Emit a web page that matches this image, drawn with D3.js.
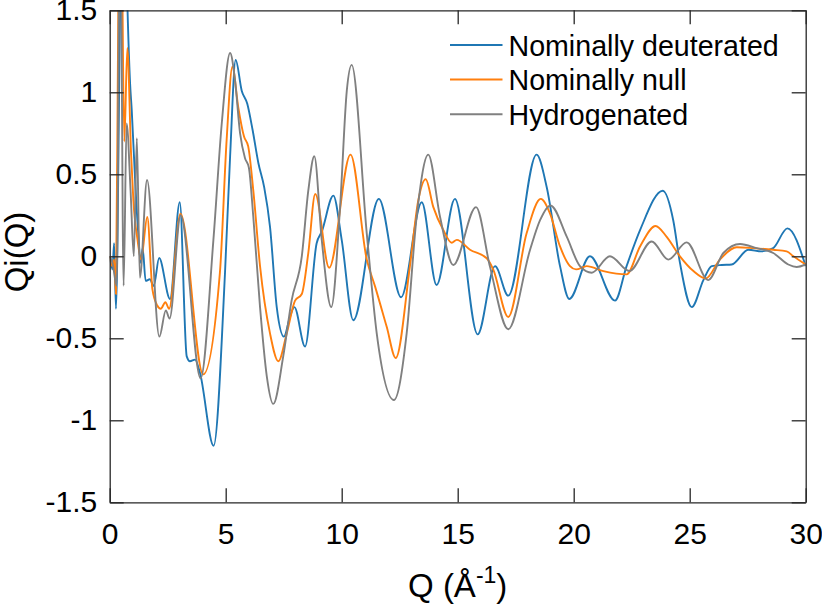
<!DOCTYPE html>
<html>
<head>
<meta charset="utf-8">
<script src="https://cdn.jsdelivr.net/npm/d3@7"></script>
<style>
  html, body { margin: 0; padding: 0; background: #fff; }
  svg { display: block; font-family: "Liberation Sans", Arial, sans-serif; }
</style>
</head>
<body>
<svg id="chart" width="822" height="605"></svg>
<script>
// ---- data ----
const seriesNames = ["Nominally deuterated", "Nominally null", "Hydrogenated"];
const seriesColors = ["#1f77b4", "#ff7f0e", "#808080"];

const qBlue = [0, 0.12, 0.19, 0.27, 0.45, 0.6, 0.75, 0.88, 0.95, 1.09, 1.23, 1.34, 1.42, 1.55, 1.73, 1.9, 2.13, 2.6, 3.02, 3.32, 3.46, 3.68, 3.89, 4.48, 4.97, 5.19, 5.43, 5.69, 5.93, 6.16, 6.41, 6.66, 6.91, 7.2, 7.51, 7.77, 7.96, 8.42, 8.92, 9.14, 9.64, 10.0, 10.5, 11.6, 12.56, 13.45, 14.09, 14.88, 15.86, 16.61, 17.18, 18.4, 18.84, 19.41, 19.81, 20.7, 21.78, 22.28, 22.86, 23.84, 24.29, 24.58, 25.09, 25.59, 25.95, 26.38, 26.81, 27.53, 28.1, 28.6, 29.21, 30];
const vBlue = [0, -0.08, 0.08, -0.32, 1.5, 2.6, 1.6, 1.05, 0.89, 0.48, 0.14, -0.04, 0.05, -0.15, -0.14, -0.18, -0.01, -0.26, 0.33, -0.61, -0.64, -0.63, -0.71, -1.155, -0.10, 0.61, 1.197, 1.01, 0.93, 0.77, 0.567, 0.42, 0.18, -0.31, -0.49, -0.37, -0.31, -0.55, 0.08, 0.15, 0.37, 0.10, -0.39, 0.35, -0.25, 0.33, -0.175, 0.35, -0.476, -0.06, -0.24, 0.62, 0.42, -0.06, -0.26, 0.0, -0.27, -0.06, 0.16, 0.40, 0.22, -0.04, -0.31, -0.145, -0.06, -0.053, -0.05, 0.04, 0.03, 0.05, 0.17, -0.06];

const qOrange = [0, 0.11, 0.19, 0.27, 0.37, 0.48, 0.63, 0.76, 0.92, 1.02, 1.2, 1.35, 1.62, 1.84, 2.05, 2.2, 2.4, 2.56, 3.05, 4.03, 4.75, 5.04, 5.29, 5.54, 5.79, 5.97, 6.19, 6.48, 6.91, 7.27, 7.63, 7.99, 8.28, 8.56, 8.86, 9.46, 10.38, 11.08, 11.44, 11.94, 12.33, 12.94, 13.3, 13.62, 13.95, 14.38, 14.74, 14.96, 15.53, 16.25, 16.53, 17.18, 17.97, 18.58, 18.98, 19.41, 19.84, 20.1, 20.56, 21.28, 22.28, 22.86, 23.53, 24.0, 24.58, 25.16, 25.69, 26.3, 27.03, 27.74, 28.6, 29.18, 29.47, 30];
const vOrange = [0, -0.06, -0.02, -0.23, 1.5, 2.3, 0.7, 1.27, 0.63, 0.34, 0.1, -0.02, 0.24, -0.2, -0.30, -0.32, -0.28, -0.32, 0.26, -0.72, -0.10, 0.71, 1.156, 0.91, 0.73, 0.67, 0.40, -0.06, -0.47, -0.64, -0.47, -0.27, -0.23, 0.02, 0.38, -0.07, 0.62, -0.02, -0.185, -0.43, -0.62, -0.06, 0.34, 0.47, 0.30, 0.16, 0.083, 0.10, 0.04, -0.012, -0.08, -0.37, 0.14, 0.35, 0.26, 0.06, -0.06, -0.08, -0.06, -0.09, -0.11, 0.06, 0.185, 0.12, 0.0, -0.09, -0.135, -0.02, 0.055, 0.05, 0.04, 0.03, 0.0, -0.05];

const qGrey = [0, 0.12, 0.3, 0.45, 0.6, 0.73, 0.9, 1.04, 1.17, 1.3, 1.61, 2.14, 2.42, 2.58, 3.06, 3.92, 4.47, 4.83, 5.19, 5.4, 5.62, 5.83, 6.0, 6.19, 6.48, 6.77, 7.05, 7.48, 7.84, 8.28, 8.56, 8.82, 9.14, 9.55, 9.93, 10.22, 10.43, 11.08, 11.51, 12.25, 12.8, 13.23, 13.73, 14.24, 14.81, 15.79, 16.39, 17.18, 18.12, 18.55, 19.0, 19.7, 20.27, 20.78, 21.56, 22.4, 23.36, 24.08, 24.87, 25.8, 26.45, 27.17, 27.89, 28.6, 29.25, 29.61, 30];
const vGrey = [0, -0.04, -0.18, 2.3, -0.18, 0.81, 0.40, 0.0, 0.72, -0.13, 0.465, -0.49, -0.33, -0.38, 0.25, -0.744, 0.10, 0.81, 1.24, 1.075, 0.75, 0.60, 0.54, 0.24, -0.31, -0.73, -0.90, -0.61, -0.27, 0.0, 0.40, 0.61, 0.10, -0.31, 0.30, 1.01, 1.167, 0.14, -0.47, -0.876, -0.47, 0.24, 0.62, 0.24, -0.053, 0.30, -0.063, -0.445, 0.04, 0.22, 0.31, 0.12, -0.06, -0.10, 0.0, -0.09, 0.09, -0.02, 0.085, -0.145, 0.02, 0.075, 0.05, 0.02, -0.05, -0.065, -0.05];

const xTicks = [0, 5, 10, 15, 20, 25, 30];
const yTicks = [-1.5, -1, -0.5, 0, 0.5, 1, 1.5];
const xLabel = "Q (Å";
const xLabelSup = "-1";
const yLabel = "Qi(Q)";

// ---- layout ----
const svg = d3.select("#chart");
const L = 109.7, R = 805.7, T = 10.3, B = 502.3;
const x = d3.scaleLinear().domain([0, 30]).range([L, R]);
const y = d3.scaleLinear().domain([-1.5, 1.5]).range([B, T]);
const axisColor = "#262626";
const tickLen = 14;

svg.append("defs").append("clipPath").attr("id", "clip")
  .append("rect").attr("x", L).attr("y", T).attr("width", R - L).attr("height", B - T);

const series = [
  { name: seriesNames[0], color: seriesColors[0], q: qBlue, v: vBlue },
  { name: seriesNames[1], color: seriesColors[1], q: qOrange, v: vOrange },
  { name: seriesNames[2], color: seriesColors[2], q: qGrey, v: vGrey }
];

const line = d3.line()
  .x(d => x(d[0]))
  .y(d => y(d[1]))
  .curve(d3.curveMonotoneX);

const gLines = svg.append("g").attr("clip-path", "url(#clip)");
series.forEach(s => {
  const pts = s.q.map((q, i) => [q, s.v[i]]);
  gLines.append("path")
    .datum(pts)
    .attr("fill", "none")
    .attr("stroke", s.color)
    .attr("stroke-width", 1.9)
    .attr("stroke-linejoin", "round")
    .attr("d", line);
});

// ---- axes ----
const fmt = d => String(d);
function styleAxis(g) {
  g.selectAll("path.domain").attr("stroke", axisColor).attr("stroke-width", 1.3);
  g.selectAll(".tick line").attr("stroke", axisColor).attr("stroke-width", 1.3);
  g.selectAll(".tick text").attr("fill", "#000").attr("font-size", 30)
    .attr("font-family", "'Liberation Sans', Arial, sans-serif");
}
svg.append("g").attr("transform", `translate(0,${B})`)
  .call(d3.axisBottom(x).tickValues(xTicks).tickFormat(fmt).tickSizeInner(-tickLen).tickSizeOuter(0).tickPadding(20))
  .call(styleAxis);
svg.append("g").attr("transform", `translate(0,${T})`)
  .call(d3.axisTop(x).tickValues(xTicks).tickFormat("").tickSizeInner(-tickLen).tickSizeOuter(0))
  .call(styleAxis);
svg.append("g").attr("transform", `translate(${L},0)`)
  .call(d3.axisLeft(y).tickValues(yTicks).tickFormat(fmt).tickSizeInner(-tickLen).tickSizeOuter(0).tickPadding(12.5))
  .call(styleAxis);
svg.append("g").attr("transform", `translate(${R},0)`)
  .call(d3.axisRight(y).tickValues(yTicks).tickFormat("").tickSizeInner(-tickLen).tickSizeOuter(0))
  .call(styleAxis);

// ---- axis labels ----
const xl = svg.append("text")
  .attr("x", (L + R) / 2)
  .attr("y", 596.5)
  .attr("text-anchor", "middle")
  .attr("font-size", 33)
  .attr("fill", "#000");
xl.append("tspan").text(xLabel);
xl.append("tspan").attr("font-size", 23).attr("dy", -14).text(xLabelSup);
xl.append("tspan").attr("dy", 14).text(")");

svg.append("text")
  .attr("transform", `translate(27.5,252) rotate(-90)`)
  .attr("text-anchor", "middle")
  .attr("font-size", 33)
  .attr("fill", "#000")
  .text(yLabel);

// ---- legend ----
const legY = [45, 79.5, 114.3];
const lg = svg.append("g");
series.forEach((s, i) => {
  lg.append("line")
    .attr("x1", 450).attr("x2", 502.5)
    .attr("y1", legY[i]).attr("y2", legY[i])
    .attr("stroke", s.color).attr("stroke-width", 1.9);
  lg.append("text")
    .attr("x", 508.5).attr("y", legY[i] + 10.5)
    .attr("font-size", 28.6)
    .attr("fill", "#000")
    .text(s.name);
});
</script>
</body>
</html>
